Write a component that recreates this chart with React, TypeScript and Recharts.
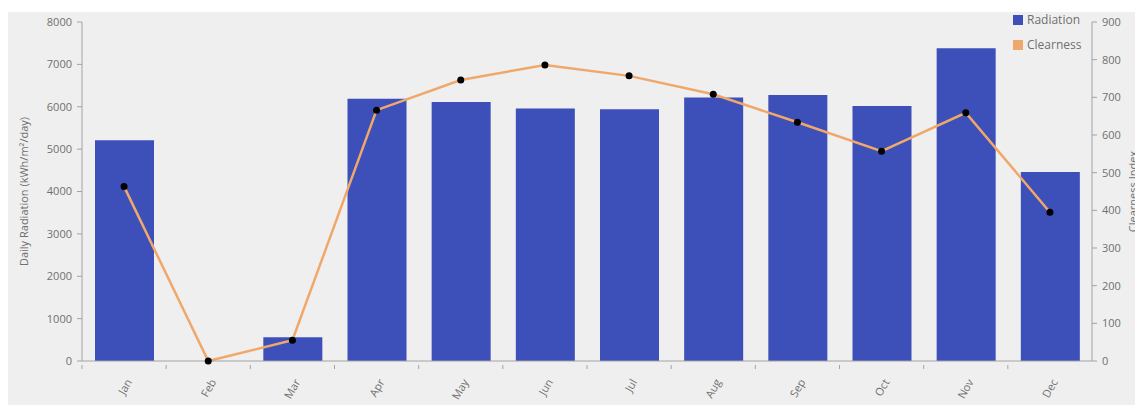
import React from 'react';
import { ComposedChart, Bar, Line, XAxis, YAxis, Legend } from 'recharts';

const months = ['Jan', 'Feb', 'Mar', 'Apr', 'May', 'Jun', 'Jul', 'Aug', 'Sep', 'Oct', 'Nov', 'Dec'];
const radiation = [5210, 0, 560, 6190, 6110, 5960, 5940, 6220, 6280, 6020, 7380, 4460];
const clearness = [463, 0, 55, 666, 746, 786, 757, 708, 634, 557, 659, 395];
const radiationTicks = [0, 1000, 2000, 3000, 4000, 5000, 6000, 7000, 8000];
const clearnessTicks = [0, 100, 200, 300, 400, 500, 600, 700, 800, 900];

const data = months.map((m, i) => ({ month: m, radiation: radiation[i], clearness: clearness[i] }));

const FONT = '"Open Sans", "Noto Sans", sans-serif';
const TEXT = '#6f6f6f';
const AXIS = '#a3a3a3';
const BLUE = '#3d4fb8';
const ORANGE = '#f0a86a';

// Month label rotated, with a small tick mark on the left edge of each band
const MonthTick = (props: any) => {
  const { x, y, payload } = props;
  const half = payload && payload.offset ? payload.offset : 42;
  return (
    <g>
      <line x1={x - half} y1={y - 4} x2={x - half} y2={y} stroke={AXIS} strokeWidth={1} />
      <text
        x={0}
        y={0}
        transform={`translate(${x + 5}, ${y + 11}) rotate(-60)`}
        textAnchor="end"
        dy="0.35em"
        fontSize={11}
        fontFamily={FONT}
        fill={TEXT}
      >
        {payload.value}
      </text>
    </g>
  );
};

const LegendContent = () => (
  <div style={{ fontFamily: FONT, fontSize: 12, color: TEXT, lineHeight: '25px' }}>
    <div style={{ display: 'flex', alignItems: 'center' }}>
      <span style={{ width: 10, height: 10, background: BLUE, marginRight: 4, display: 'inline-block' }} />
      Radiation
    </div>
    <div style={{ display: 'flex', alignItems: 'center' }}>
      <span style={{ width: 10, height: 10, background: ORANGE, marginRight: 4, display: 'inline-block' }} />
      Clearness
    </div>
  </div>
);

export default function App() {
  return (
    <div style={{ width: 1135, height: 393, marginTop: 4, background: '#efefef', position: 'relative' }}>
      <ComposedChart
        width={1135}
        height={393}
        data={data}
        margin={{ top: 10, right: 6, bottom: 4, left: 14 }}
      >
        <XAxis
          dataKey="month"
          height={40}
          interval={0}
          tickLine={false}
          axisLine={{ stroke: AXIS }}
          tick={<MonthTick />}
        />
        <YAxis
          yAxisId="left"
          width={60}
          domain={[0, 8000]}
          ticks={radiationTicks}
          tickSize={5}
          tickMargin={5}
          axisLine={{ stroke: AXIS }}
          tickLine={{ stroke: AXIS }}
          tick={{ fontSize: 11, fontFamily: FONT, fill: TEXT }}
          label={{
            value: 'Daily Radiation (kWh/m²/day)',
            angle: -90,
            position: 'insideLeft',
            offset: 2,
            style: { textAnchor: 'middle', fontSize: 11, fontFamily: FONT, fill: TEXT },
          }}
        />
        <YAxis
          yAxisId="right"
          orientation="right"
          width={45}
          domain={[0, 900]}
          ticks={clearnessTicks}
          tickSize={5}
          tickMargin={5}
          axisLine={{ stroke: AXIS }}
          tickLine={{ stroke: AXIS }}
          tick={{ fontSize: 11, fontFamily: FONT, fill: TEXT }}
          label={{
            value: 'Clearness Index',
            angle: -90,
            position: 'insideRight',
            offset: 4,
            style: { textAnchor: 'middle', fontSize: 11, fontFamily: FONT, fill: TEXT },
          }}
        />
        <Legend
          layout="vertical"
          align="center"
          verticalAlign="middle"
          content={<LegendContent />}
          wrapperStyle={{ top: -5, left: 1005, width: 90 }}
        />
        <Bar
          yAxisId="left"
          dataKey="radiation"
          name="Radiation"
          fill={BLUE}
          barSize={59}
          isAnimationActive={false}
        />
        <Line
          yAxisId="right"
          dataKey="clearness"
          name="Clearness"
          stroke={ORANGE}
          strokeWidth={2.5}
          dot={{ r: 3.5, fill: '#000', stroke: 'none' }}
          activeDot={false}
          isAnimationActive={false}
        />
      </ComposedChart>
    </div>
  );
}
